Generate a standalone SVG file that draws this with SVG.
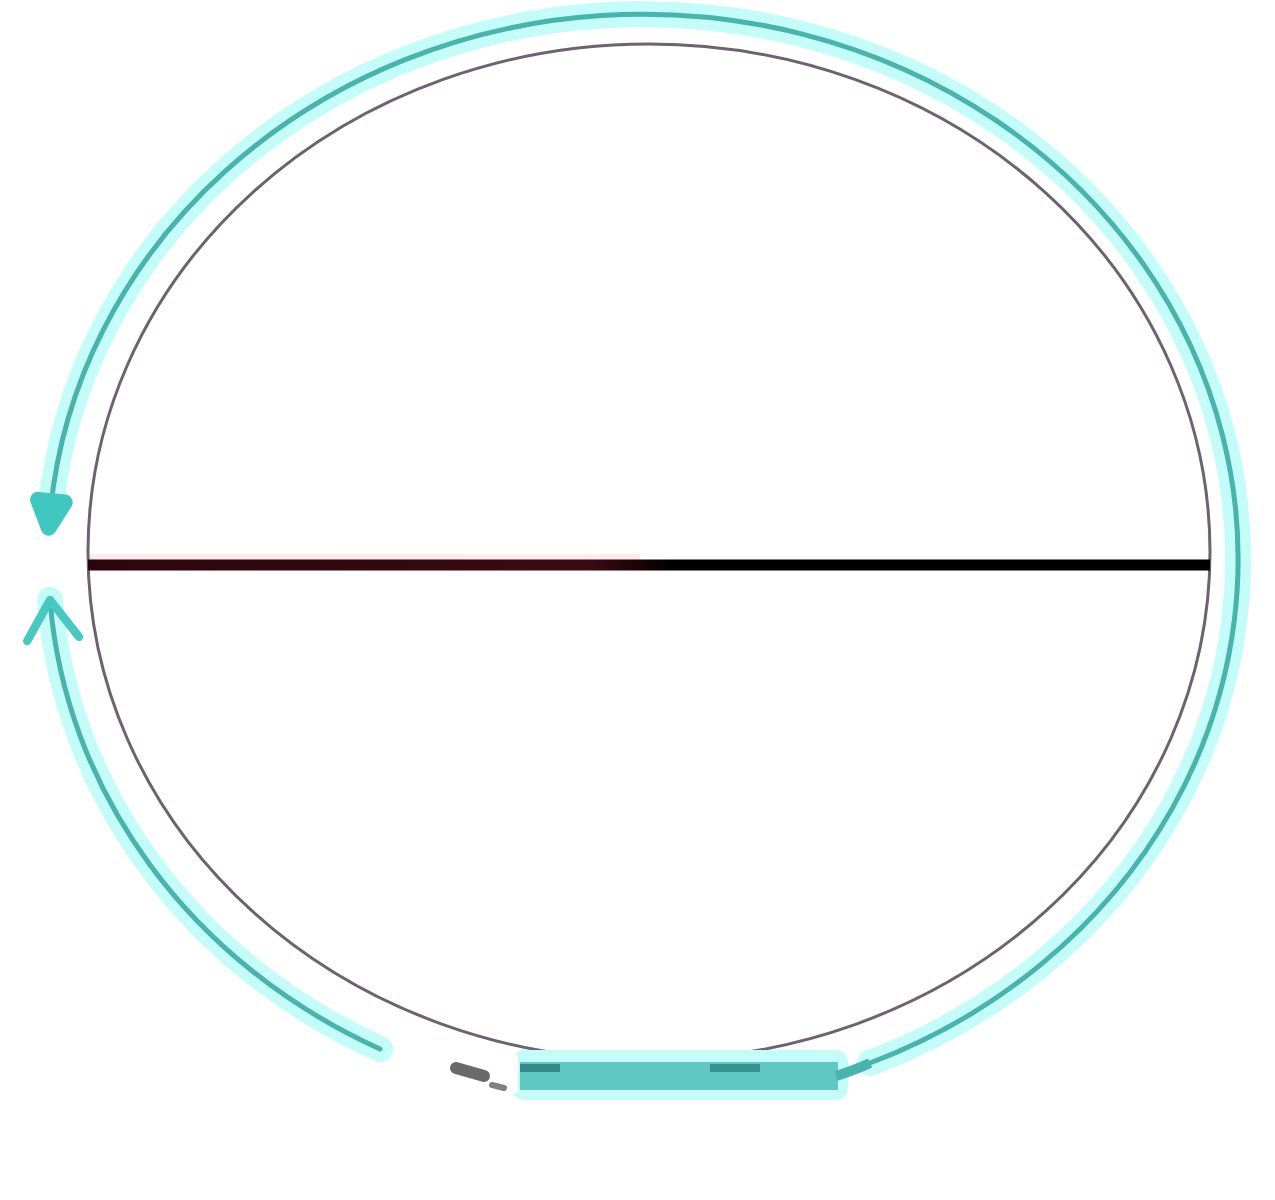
<svg xmlns="http://www.w3.org/2000/svg" width="1275" height="1200" viewBox="0 0 1275 1200">
  <defs>
    <style>
      .glow { fill: none; stroke: #c4fcf9; stroke-width: 26; stroke-linecap: round; }
      .core { fill: none; stroke: #48b4ac; stroke-width: 5; stroke-linecap: round; }
      .inner { fill: none; stroke: #6e6270; stroke-width: 3; }
    </style>
    <linearGradient id="diam" x1="88" y1="0" x2="1210" y2="0" gradientUnits="userSpaceOnUse">
      <stop offset="0" stop-color="#2a060c"/>
      <stop offset="0.45" stop-color="#3a0a12"/>
      <stop offset="0.52" stop-color="#000000"/>
      <stop offset="1" stop-color="#000000"/>
    </linearGradient>
    <marker id="headDot" viewBox="0 0 20 20" refX="8" refY="10" markerWidth="9" markerHeight="9" orient="auto" markerUnits="strokeWidth">
      <path d="M4,4 L16,10 L4,16 Z" fill="#40c8c0" stroke="#40c8c0" stroke-width="7" stroke-linejoin="round"/>
    </marker>
    <marker id="headOpen" viewBox="0 0 20 20" refX="15" refY="10" markerWidth="13" markerHeight="13" orient="auto" markerUnits="strokeWidth">
      <path d="M3,2 L15,10 L3,18" fill="none" stroke="#48c8c0" stroke-width="2.6" stroke-linejoin="round" stroke-linecap="round"/>
    </marker>
  </defs>
  <rect width="1275" height="1200" fill="#ffffff"/>

  <g id="circle">
    <ellipse class="inner" cx="649" cy="552" rx="561" ry="508"/>
  </g>

  <g id="diameter">
    <line x1="90" y1="558" x2="640" y2="558" stroke="#fbe3e3" stroke-width="8" opacity="0.7"/>
    <line x1="88" y1="565" x2="1210" y2="565" stroke="url(#diam)" stroke-width="11"/>
  </g>

  <g id="connectors">
    <path class="glow" d="M 870 1063 A 595 545 0 1 0 50.5 510"/>
    <path class="glow" d="M 380 1049 A 595 545 0 0 1 50 600"/>
    <rect x="512" y="1050" width="336" height="50" rx="12" fill="#c4fcf9"/>
    <path class="core" d="M 870 1063 A 595 545 0 1 0 50.5 510" marker-end="url(#headDot)"/>
    <path class="core" d="M 380 1049 A 595 545 0 0 1 50 600" marker-end="url(#headOpen)"/>
    <rect x="520" y="1062" width="318" height="28" fill="#5fc8c2"/>
    <rect x="520" y="1064" width="40" height="8" fill="#1f6f70" opacity="0.7"/>
    <rect x="710" y="1064" width="50" height="8" fill="#1f6f70" opacity="0.6"/>
    <path d="M 836 1076 Q 855 1070 870 1063" fill="none" stroke="#48b4ac" stroke-width="10"/>
  </g>

  <g id="mark">
    <rect x="502" y="1055" width="16" height="38" fill="#ffffff"/>
    <path d="M 456 1068 L 484 1076" stroke="#6a6a6a" stroke-width="12" stroke-linecap="round"/>
    <path d="M 492 1085 L 504 1088" stroke="#808080" stroke-width="6" stroke-linecap="round"/>
  </g>
</svg>
